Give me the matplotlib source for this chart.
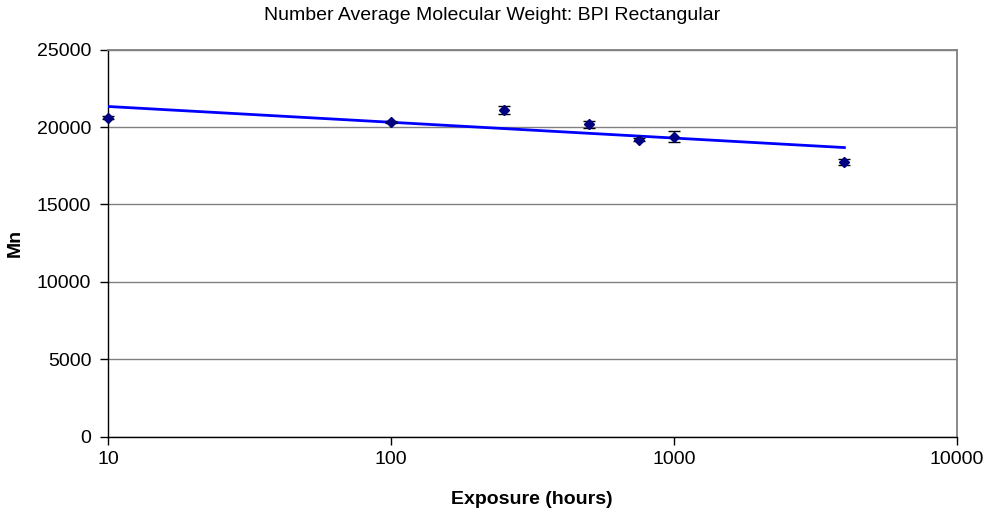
import numpy as np
import matplotlib
matplotlib.use("Agg")
import matplotlib.pyplot as plt
from matplotlib.ticker import FixedLocator, FixedFormatter, NullLocator

plt.rcParams['font.family'] = ['Liberation Sans', 'DejaVu Sans']

exposure_hours = [10, 100, 250, 500, 750, 1000, 4000]
mn_values = [20620, 20330, 21100, 20170, 19170, 19380, 17770]
mn_errors = [80, 80, 250, 240, 100, 350, 190]
x_ticks = [10, 100, 1000, 10000]
x_tick_labels = ["10", "100", "1000", "10000"]
y_ticks = [0, 5000, 10000, 15000, 20000, 25000]

fig = plt.figure(figsize=(9.86, 5.16), dpi=100)
ax = fig.add_axes([108/986, 1-436.7/516, (957-108)/986, (436.7-49.7)/516])

# logarithmic trendline fit
coef = np.polyfit(np.log(exposure_hours), mn_values, 1)
xt = np.logspace(np.log10(min(exposure_hours)), np.log10(max(exposure_hours)), 100)
ax.plot(xt, coef[0]*np.log(xt) + coef[1], color='#0000FF', lw=2.0, zorder=3)

eb = ax.errorbar(exposure_hours, mn_values, yerr=mn_errors, fmt='D', color='#000080',
                 markersize=5, ecolor='black', elinewidth=1.0, capsize=4, capthick=1.0, zorder=4)
eb.lines[0].set_clip_on(False)
for art in eb.lines[1]:
    art.set_clip_on(False)
for art in eb.lines[2]:
    art.set_clip_on(False)

ax.set_xscale('log')
ax.set_xlim(10, 10000)
ax.set_ylim(0, 25000)
ax.xaxis.set_major_locator(FixedLocator(x_ticks))
ax.xaxis.set_major_formatter(FixedFormatter(x_tick_labels))
ax.xaxis.set_minor_locator(NullLocator())
ax.set_yticks(y_ticks)
ax.set_yticklabels([str(v) for v in y_ticks])

ax.yaxis.grid(True, color='#808080', lw=1.0)
ax.set_axisbelow(True)
for s in ['top', 'right']:
    ax.spines[s].set_color('#808080')
    ax.spines[s].set_linewidth(1.3)
for s in ['left', 'bottom']:
    ax.spines[s].set_color('black')
    ax.spines[s].set_linewidth(1.0)

ax.tick_params(axis='both', which='major', labelsize=14, length=6, width=1, color='black')
ax.tick_params(axis='y', pad=6)
ax.tick_params(axis='x', pad=4)

fig.text(532/986, 1-500/516, 'Exposure (hours)', fontsize=14, fontweight='bold',
         ha='center', va='center')
fig.text(15/986, 1-243/516, 'Mn', fontsize=14, fontweight='bold', rotation=90,
         ha='center', va='center')
fig.text(492/986, 1-15/516, 'Number Average Molecular Weight: BPI Rectangular',
         ha='center', va='center', fontsize=14)

fig.savefig('out.png', dpi=100)
